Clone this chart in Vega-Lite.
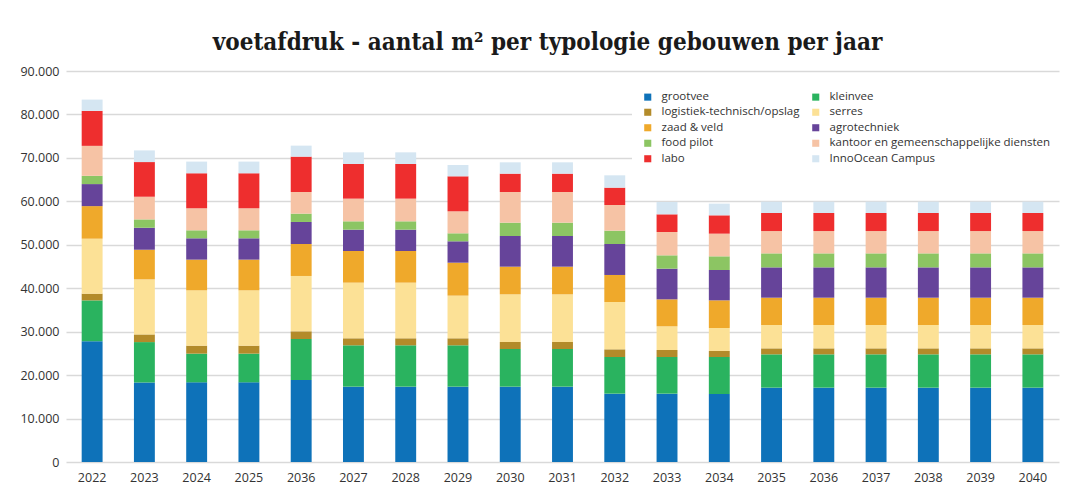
{
  "$schema": "https://vega.github.io/schema/vega-lite/v6.json",
  "width": 993,
  "height": 391,
  "autosize": "none",
  "padding": {"left": 66, "top": 71, "right": 23, "bottom": 39},
  "background": "white",
  "title": {
    "text": "voetafdruk - aantal m² per typologie gebouwen per jaar",
    "font": "DejaVu Serif Condensed",
    "fontSize": 24,
    "fontWeight": "bold",
    "color": "#1a1a1a",
    "anchor": "middle",
    "offset": 10,
    "dx": -15
  },
  "config": {
    "locale": {"number": {"decimal": ",", "thousands": ".", "grouping": [3], "currency": ["€", ""]}},
    "view": {"stroke": null}
  },
  "data": {
    "values": [
      {"jaar": "2022", "grootvee": 27800, "kleinvee": 9400, "logistiek-technisch/opslag": 1550, "serres": 12650, "zaad & veld": 7500, "agrotechniek": 5070, "food pilot": 1900, "kantoor en gemeenschappelijke diensten": 6900, "labo": 8050, "InnoOcean Campus": 2600},
      {"jaar": "2023", "grootvee": 18300, "kleinvee": 9300, "logistiek-technisch/opslag": 1770, "serres": 12660, "zaad & veld": 6830, "agrotechniek": 5060, "food pilot": 1920, "kantoor en gemeenschappelijke diensten": 5220, "labo": 7980, "InnoOcean Campus": 2680},
      {"jaar": "2024", "grootvee": 18340, "kleinvee": 6600, "logistiek-technisch/opslag": 1840, "serres": 12740, "zaad & veld": 7060, "agrotechniek": 4910, "food pilot": 1840, "kantoor en gemeenschappelijke diensten": 5070, "labo": 8060, "InnoOcean Campus": 2690},
      {"jaar": "2025", "grootvee": 18340, "kleinvee": 6600, "logistiek-technisch/opslag": 1840, "serres": 12740, "zaad & veld": 7060, "agrotechniek": 4910, "food pilot": 1840, "kantoor en gemeenschappelijke diensten": 5070, "labo": 8060, "InnoOcean Campus": 2690},
      {"jaar": "2026", "grootvee": 18880, "kleinvee": 9430, "logistiek-technisch/opslag": 1770, "serres": 12740, "zaad & veld": 7360, "agrotechniek": 5070, "food pilot": 1920, "kantoor en gemeenschappelijke diensten": 4980, "labo": 8140, "InnoOcean Campus": 2530},
      {"jaar": "2027", "grootvee": 17340, "kleinvee": 9520, "logistiek-technisch/opslag": 1610, "serres": 12810, "zaad & veld": 7290, "agrotechniek": 4910, "food pilot": 1920, "kantoor en gemeenschappelijke diensten": 5220, "labo": 7980, "InnoOcean Campus": 2680},
      {"jaar": "2028", "grootvee": 17340, "kleinvee": 9520, "logistiek-technisch/opslag": 1610, "serres": 12810, "zaad & veld": 7290, "agrotechniek": 4910, "food pilot": 1920, "kantoor en gemeenschappelijke diensten": 5220, "labo": 7980, "InnoOcean Campus": 2680},
      {"jaar": "2029", "grootvee": 17340, "kleinvee": 9520, "logistiek-technisch/opslag": 1610, "serres": 9820, "zaad & veld": 7590, "agrotechniek": 4920, "food pilot": 1840, "kantoor en gemeenschappelijke diensten": 5060, "labo": 8060, "InnoOcean Campus": 2610},
      {"jaar": "2030", "grootvee": 17340, "kleinvee": 8670, "logistiek-technisch/opslag": 1610, "serres": 10980, "zaad & veld": 6360, "agrotechniek": 7060, "food pilot": 3070, "kantoor en gemeenschappelijke diensten": 7060, "labo": 4220, "InnoOcean Campus": 2610},
      {"jaar": "2031", "grootvee": 17340, "kleinvee": 8670, "logistiek-technisch/opslag": 1610, "serres": 10980, "zaad & veld": 6360, "agrotechniek": 7060, "food pilot": 3070, "kantoor en gemeenschappelijke diensten": 7060, "labo": 4220, "InnoOcean Campus": 2610},
      {"jaar": "2032", "grootvee": 15730, "kleinvee": 8440, "logistiek-technisch/opslag": 1760, "serres": 10900, "zaad & veld": 6220, "agrotechniek": 7130, "food pilot": 3070, "kantoor en gemeenschappelijke diensten": 5910, "labo": 3990, "InnoOcean Campus": 2840},
      {"jaar": "2033", "grootvee": 15730, "kleinvee": 8440, "logistiek-technisch/opslag": 1610, "serres": 5450, "zaad & veld": 6210, "agrotechniek": 7060, "food pilot": 3070, "kantoor en gemeenschappelijke diensten": 5370, "labo": 4070, "InnoOcean Campus": 2840},
      {"jaar": "2034", "grootvee": 15650, "kleinvee": 8520, "logistiek-technisch/opslag": 1380, "serres": 5300, "zaad & veld": 6360, "agrotechniek": 6990, "food pilot": 3140, "kantoor en gemeenschappelijke diensten": 5220, "labo": 4220, "InnoOcean Campus": 2690},
      {"jaar": "2035", "grootvee": 17110, "kleinvee": 7670, "logistiek-technisch/opslag": 1380, "serres": 5370, "zaad & veld": 6290, "agrotechniek": 6980, "food pilot": 3220, "kantoor en gemeenschappelijke diensten": 5140, "labo": 4150, "InnoOcean Campus": 2610},
      {"jaar": "2036", "grootvee": 17110, "kleinvee": 7670, "logistiek-technisch/opslag": 1380, "serres": 5370, "zaad & veld": 6290, "agrotechniek": 6980, "food pilot": 3220, "kantoor en gemeenschappelijke diensten": 5140, "labo": 4150, "InnoOcean Campus": 2610},
      {"jaar": "2037", "grootvee": 17110, "kleinvee": 7670, "logistiek-technisch/opslag": 1380, "serres": 5370, "zaad & veld": 6290, "agrotechniek": 6980, "food pilot": 3220, "kantoor en gemeenschappelijke diensten": 5140, "labo": 4150, "InnoOcean Campus": 2610},
      {"jaar": "2038", "grootvee": 17110, "kleinvee": 7670, "logistiek-technisch/opslag": 1380, "serres": 5370, "zaad & veld": 6290, "agrotechniek": 6980, "food pilot": 3220, "kantoor en gemeenschappelijke diensten": 5140, "labo": 4150, "InnoOcean Campus": 2610},
      {"jaar": "2039", "grootvee": 17110, "kleinvee": 7670, "logistiek-technisch/opslag": 1380, "serres": 5370, "zaad & veld": 6290, "agrotechniek": 6980, "food pilot": 3220, "kantoor en gemeenschappelijke diensten": 5140, "labo": 4150, "InnoOcean Campus": 2610},
      {"jaar": "2040", "grootvee": 17110, "kleinvee": 7670, "logistiek-technisch/opslag": 1380, "serres": 5370, "zaad & veld": 6290, "agrotechniek": 6980, "food pilot": 3220, "kantoor en gemeenschappelijke diensten": 5140, "labo": 4150, "InnoOcean Campus": 2610}
    ]
  },
  "transform": [
    {"fold": ["grootvee", "kleinvee", "logistiek-technisch/opslag", "serres", "zaad & veld", "agrotechniek", "food pilot", "kantoor en gemeenschappelijke diensten", "labo", "InnoOcean Campus"], "as": ["typologie", "m2"]},
    {
      "lookup": "typologie",
      "from": {
        "data": {
          "values": [
            {"typologie": "grootvee", "volgorde": 1},
            {"typologie": "kleinvee", "volgorde": 2},
            {"typologie": "logistiek-technisch/opslag", "volgorde": 3},
            {"typologie": "serres", "volgorde": 4},
            {"typologie": "zaad & veld", "volgorde": 5},
            {"typologie": "agrotechniek", "volgorde": 6},
            {"typologie": "food pilot", "volgorde": 7},
            {"typologie": "kantoor en gemeenschappelijke diensten", "volgorde": 8},
            {"typologie": "labo", "volgorde": 9},
            {"typologie": "InnoOcean Campus", "volgorde": 10}
          ]
        },
        "key": "typologie",
        "fields": ["volgorde"]
      }
    }
  ],
  "mark": {"type": "bar"},
  "encoding": {
    "x": {
      "field": "jaar",
      "type": "nominal",
      "sort": null,
      "scale": {"paddingInner": 0.6, "paddingOuter": 0.3},
      "axis": {
        "title": null,
        "labelAngle": 0,
        "domain": false,
        "ticks": false,
        "labelFont": "Open Sans",
        "labelFontSize": 12.5,
        "labelColor": "#333333",
        "labelPadding": 9,
        "labelExpr": "datum.value == '2026' ? '2036' : datum.value"
      }
    },
    "y": {
      "field": "m2",
      "type": "quantitative",
      "stack": "zero",
      "scale": {"domain": [0, 90000], "nice": false},
      "axis": {
        "title": null,
        "values": [0, 10000, 20000, 30000, 40000, 50000, 60000, 70000, 80000, 90000],
        "format": ",d",
        "domain": false,
        "ticks": false,
        "gridColor": "#d9d9d9",
        "gridWidth": 1.5,
        "labelFont": "Open Sans",
        "labelFontSize": 12.5,
        "labelColor": "#333333",
        "labelPadding": 7
      }
    },
    "order": {"field": "volgorde", "type": "quantitative", "sort": "ascending"},
    "color": {
      "field": "typologie",
      "type": "nominal",
      "sort": ["grootvee", "kleinvee", "logistiek-technisch/opslag", "serres", "zaad & veld", "agrotechniek", "food pilot", "kantoor en gemeenschappelijke diensten", "labo", "InnoOcean Campus"],
      "scale": {
        "domain": ["grootvee", "kleinvee", "logistiek-technisch/opslag", "serres", "zaad & veld", "agrotechniek", "food pilot", "kantoor en gemeenschappelijke diensten", "labo", "InnoOcean Campus"],
        "range": ["#0e72b9", "#2ab35f", "#b38b2a", "#fce196", "#efa92b", "#66449a", "#8cc563", "#f6c3a5", "#ee2e2e", "#d5e6f2"]
      },
      "legend": {
        "title": null,
        "orient": "none",
        "legendX": 566,
        "legendY": 10,
        "direction": "horizontal",
        "columns": 2,
        "symbolType": "square",
        "symbolSize": 50,
        "symbolStrokeWidth": 0,
        "labelFont": "Open Sans",
        "labelFontSize": 11.5,
        "labelColor": "#333333",
        "labelOffset": 8,
        "labelLimit": 0,
        "fillColor": "white",
        "padding": 10,
        "columnPadding": 10,
        "rowPadding": 2.5
      }
    }
  }
}
